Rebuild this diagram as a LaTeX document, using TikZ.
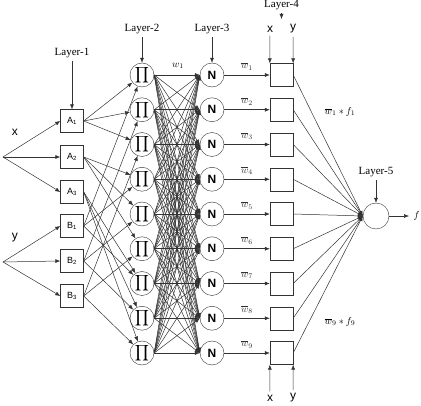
\documentclass[tikz,border=0pt]{standalone}
\usepackage{amsmath,amssymb}
\usepackage{fontspec}
\setmainfont{Liberation Serif}
\setsansfont{Liberation Sans}
\usepackage{tikz}
\usetikzlibrary{arrows.meta,positioning,calc}
\definecolor{wiregray}{HTML}{333333}

\begin{document}
\begin{tikzpicture}[x=1pt,y=-1pt,>={Latex[length=5pt,width=4pt]},
  box/.style={draw=wiregray, minimum width=23pt, minimum height=23pt, inner sep=0pt},
  neuron/.style={draw=wiregray, circle, minimum size=24pt, inner sep=0pt},
  wire/.style={wiregray, ->, line width=0.5pt},
  layer/.style={font=\fontsize{11}{12}\selectfont},
  inp/.style={font=\sffamily\fontsize{12}{13}\selectfont}]
\useasboundingbox (0,0) rectangle (421,406);

% inputs
\coordinate (x0) at (3,157);
\coordinate (y0) at (3,262);
\node[inp] (xl) at (15,132) {x};
\node[inp] (yl) at (15,238) {y};

% layer 1
\foreach \i/\yy in {1/121,2/157,3/192}
  \node[box,font=\sffamily\small] (A\i) at (72,\yy) {A\textsubscript{\i}};
\foreach \i/\yy in {1/226,2/261,3/296}
  \node[box,font=\sffamily\small] (B\i) at (72,\yy) {B\textsubscript{\i}};
\foreach \i in {1,2,3} {
  \draw[wire] (x0) -- (A\i.west);
  \draw[wire] (y0) -- (B\i.west);
}

% layers 2 to 4
\foreach \k in {1,...,9} {
  \node[neuron] (P\k) at (142,{75+34.75*(\k-1)}) {\scalebox{1.1}{$\displaystyle\prod$}};
  \node[neuron,font=\sffamily\bfseries\fontsize{12}{13}\selectfont] (N\k) at (212,{75+34.75*(\k-1)}) {N};
  \node[box] (Q\k) at (281.5,{75+34.75*(\k-1)}) {};
}
\foreach \i in {1,2,3}
  \foreach \j in {1,2,3} {
    \pgfmathtruncatemacro\k{3*(\i-1)+\j}
    \pgfmathtruncatemacro\m{3*(\j-1)+\i}
    \draw[wire] (A\i.east) -- (P\k);
    \draw[wire] (B\i.east) -- (P\m);
  }
\foreach \k in {1,...,9}
  \foreach \m in {1,...,9}
    \draw[wire] (P\k.east) -- (N\m.west);
\node (w1) at (178,66) {$w_1$};

% layer 5
\node[neuron,minimum size=26pt] (S) at (376,216) {};
\foreach \k in {1,...,9} {
  \draw[wire] (N\k) -- (Q\k) node[midway,above=1pt] {$\overline{w}_{\k}$};
  \draw[wire] (Q\k.east) -- (S.west);
}
\coordinate (fout) at (409,216);
\draw[wire] (S) -- (fout);
\node[right=1pt of fout] (fl) {$f$};
\node (lab1) at (340,112) {$\overline{w}_1 * f_1$};
\node (lab9) at (340,322) {$\overline{w}_9 * f_9$};

% layer labels
\node[layer] (L1) at (72,53) {Layer-1};
\node[layer] (L2) at (142,29) {Layer-2};
\node[layer] (L3) at (212,29) {Layer-3};
\node[layer] (L4) at (281.5,5) {Layer-4};
\node[layer] (L5) at (376,172) {Layer-5};
\draw[wire] (L1) -- (A1);
\draw[wire] (L2) -- (P1);
\draw[wire] (L3) -- (N1);
\coordinate (c4) at (281.5,19);
\draw[wire] (L4) -- (c4);
\draw[wire] (L5) -- (S);

% x and y into layer 4
\node[inp] (xt) at (270,29) {x};
\node[inp] (yt) at (293,29) {y};
\node[inp] (xb) at (270,398) {x};
\node[inp] (yb) at (293,398) {y};
\draw[wire] (xt) -- (Q1.north west);
\draw[wire] (yt) -- (Q1.north east);
\draw[wire] (xb) -- (Q9.south west);
\draw[wire] (yb) -- (Q9.south east);
\end{tikzpicture}
\end{document}
